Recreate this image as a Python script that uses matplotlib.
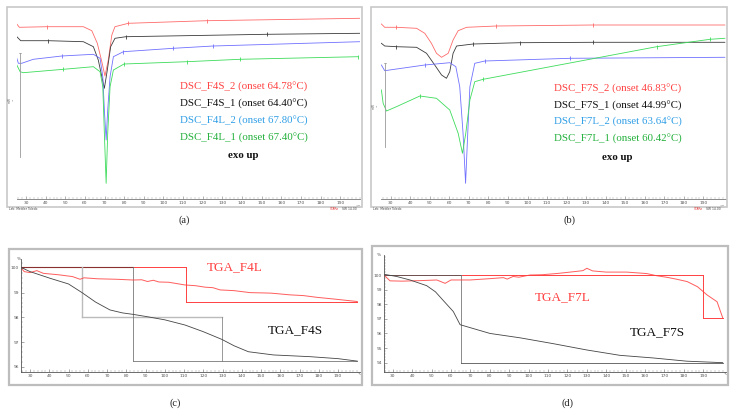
import numpy as np
import matplotlib
matplotlib.use("Agg")
import matplotlib.pyplot as plt
from matplotlib.patches import Rectangle
from matplotlib.ticker import MultipleLocator, FixedLocator

W, H = 734, 417
SERIF = ["Liberation Serif", "DejaVu Serif"]

# ---------------- DATA ----------------
# Panel (a) DSC curves: temperature (°C) and heat flow (arbitrary units, exo up)
f4s2_T = [25.3, 26.6, 40.5, 59.2, 63.5, 66.3, 68.6, 70.2, 71.9, 73.7, 75.3, 82.1, 122.0, 200.0]
f4s2_v = [175, 171.7, 172.3, 172.3, 168.3, 155.7, 137.3, 123, 139, 164, 172.3, 175.7, 178.3, 180.7]
f4s1_T = [25.3, 27.3, 41.4, 59.2, 64.3, 66.8, 68.6, 69.9, 71.4, 73.1, 75.3, 80.9, 152.6, 200.0]
f4s1_v = [162.3, 158.3, 158.3, 157.3, 152.3, 139, 122.3, 110.7, 129, 152.3, 160.7, 162.3, 164.7, 165.7]
f4l2_T = [25.3, 26.1, 27.8, 33.7, 48.2, 64.3, 67.7, 69.1, 69.9, 70.8, 71.6, 72.8, 74.5, 79.6, 105.0, 125.4, 200.0]
f4l2_v = [140.7, 135.7, 135.7, 139.7, 143, 144.7, 140.7, 122.3, 89, 59, 89, 122.3, 142.3, 147.3, 150.7, 153, 157.3]
f4l1_T = [25.3, 27.0, 28.6, 49.0, 64.3, 67.7, 69.1, 69.9, 70.8, 71.6, 72.8, 74.5, 79.9, 111.9, 139.0, 199.3]
f4l1_v = [134, 127.3, 126.3, 129.7, 132.3, 127.3, 112.3, 65.7, 15.7, 65.7, 112.3, 129, 135, 137.3, 139.7, 142.3]

# Panel (b) DSC curves
f7s2_T = [25.2, 26.9, 32.9, 43.2, 47.4, 50.8, 53.4, 56.0, 59.4, 61.9, 64.5, 68.8, 84.1, 133.6, 201.0]
f7s2_v = [175, 171.7, 171.7, 170.7, 165.7, 155.7, 145.7, 141.7, 145.7, 159, 168.3, 171.7, 173, 174, 174]
f7s1_T = [25.2, 26.9, 32.9, 43.2, 48.3, 52.5, 56.0, 58.5, 60.2, 61.9, 63.7, 72.2, 96.1, 133.6, 201.0]
f7s1_v = [155.7, 153, 152.3, 151.7, 145.7, 134, 124, 120.7, 127.3, 145.7, 153, 155, 156.3, 156.7, 156.7]
f7l2_T = [25.2, 26.9, 29.4, 47.4, 60.2, 63.3, 65.3, 67.0, 68.3, 69.4, 70.5, 73.0, 78.2, 121.7, 201.0]
f7l2_v = [134, 128.3, 129, 134, 136.3, 132.3, 112.3, 65.7, 15.7, 65.7, 112.3, 135.7, 138, 140.7, 141.7]
f7l1_T = [25.2, 26.1, 27.8, 32.9, 44.9, 53.4, 60.2, 64.5, 66.7, 68.4, 70.5, 73.0, 77.3, 166.1, 193.4, 201.0]
f7l1_v = [109, 95.7, 88, 92.3, 103, 100.7, 89, 65.7, 45.7, 65.7, 99, 117.3, 119.7, 152.3, 159.7, 160.7]

dsc_a_labels = ["DSC_F4S_2 (onset 64.78°C)", "DSC_F4S_1 (onset 64.40°C)",
                "DSC_F4L_2 (onset 67.80°C)", "DSC_F4L_1 (onset 67.40°C)"]
dsc_b_labels = ["DSC_F7S_2 (onset 46.83°C)", "DSC_F7S_1 (onset 44.99°C)",
                "DSC_F7L_2 (onset 63.64°C)", "DSC_F7L_1 (onset 60.42°C)"]

# Panel (c) TGA curves (mass %)
f4s_T = [25, 30, 40.4, 50, 57, 64, 71.5, 78, 83.6, 90.6, 100, 110.5, 120, 129.6, 136, 143.4, 156.4, 175.4, 190, 200]
f4s_m = [100.03, 99.85, 99.58, 99.35, 99.0, 98.62, 98.3, 98.18, 98.12, 98.03, 97.9, 97.69, 97.42, 97.11, 96.85, 96.61, 96.48, 96.41, 96.33, 96.23]
f4l_T = [25, 27, 30, 33.5, 36.9, 45, 52, 56, 58, 65, 75, 83.6, 88, 91, 94, 97, 102, 110.5, 116, 121, 125, 128.7, 136, 144.3, 150, 155, 158, 165, 172, 179, 188, 200]
f4l_m = [100.02, 99.85, 99.81, 99.89, 99.78, 99.72, 99.65, 99.54, 99.6, 99.56, 99.54, 99.51, 99.52, 99.45, 99.5, 99.43, 99.42, 99.31, 99.28, 99.22, 99.2, 99.11, 99.08, 99.0, 98.99, 98.98, 98.96, 98.91, 98.88, 98.81, 98.74, 98.64]
f4s_steps = [57.0, 83.7, 129.6]
f4s_levels = [100.03, 98.03, 96.22]
f4l_steps = [110.9]
f4l_levels = [100.03, 98.61]

# Panel (d) TGA curves
f7s_T = [25.5, 32, 38.9, 47.5, 52, 56, 61.2, 64.7, 69.8, 80.1, 95.6, 112.7, 129.9, 147.1, 164.3, 181.5, 200]
f7s_m = [100.05, 99.9, 99.66, 99.27, 98.85, 98.26, 97.5, 96.6, 96.4, 96.0, 95.7, 95.3, 94.87, 94.5, 94.32, 94.1, 94.0]
f7l_T = [25.5, 28.6, 35, 45, 52.7, 57, 60, 69.8, 80, 87, 89, 92, 95, 100.7, 107, 114.4, 120, 124.8, 128, 130, 133, 140, 150.5, 160.8, 166, 171.4, 176, 181.7, 187, 192, 197.1, 200]
f7l_m = [100.0, 99.6, 99.58, 99.62, 99.66, 99.43, 99.66, 99.66, 99.75, 99.82, 99.72, 99.9, 99.85, 100.0, 100.02, 100.1, 100.18, 100.25, 100.3, 100.46, 100.28, 100.2, 100.2, 100.1, 99.95, 99.84, 99.72, 99.55, 99.2, 98.63, 98.17, 97.07]
f7s_steps = [65.0]
f7s_levels = [100.0, 94.0]
f7l_steps = [190.0]
f7l_levels = [100.0, 97.05]

tga_c_labels = ["TGA_F4L", "TGA_F4S"]
tga_d_labels = ["TGA_F7L", "TGA_F7S"]
captions = ["(a)", "(b)", "(c)", "(d)"]

# colours
RED = "#ff6a6a"
BLK = "#3a3a3a"
BLU = "#7070ff"
GRN = "#3ddc5a"
TRED = "#ff4040"
TBLU = "#2f9ee6"
TGRN = "#22b03a"

fig = plt.figure(figsize=(W / 100, H / 100), dpi=100)
fig.patch.set_facecolor("white")


def fx(px):
    return px / W


def fy(py):
    return 1 - py / H


def add_ax(x0, ytop, x1, ybot):
    return fig.add_axes([fx(x0), fy(ybot), (x1 - x0) / W, (ybot - ytop) / H])


def box(x0, y0, x1, y1, lw=1.2, col="#c8c8c8"):
    fig.add_artist(Rectangle((fx(x0), fy(y1)), (x1 - x0) / W, (y1 - y0) / H,
                             transform=fig.transFigure, fill=False,
                             edgecolor=col, linewidth=lw))


def ftext(px, py, s, **kw):
    fig.text(fx(px), fy(py), s, **kw)


# ---------- DSC panels ----------
def dsc_axis(ax, xlim):
    ax.set_xlim(*xlim)
    ax.set_ylim(0, 189)
    for s in ["top", "right", "left"]:
        ax.spines[s].set_visible(False)
    ax.spines["bottom"].set_color("#777777")
    ax.spines["bottom"].set_linewidth(0.6)
    ax.set_yticks([])
    ax.xaxis.set_major_locator(FixedLocator(list(range(30, 200, 10))))
    ax.xaxis.set_minor_locator(MultipleLocator(2))
    ax.tick_params(axis="x", which="major", direction="in", length=2, width=0.4,
                   colors="#777777", labelsize=3.2, pad=1.5, labelcolor="#555555")
    ax.tick_params(axis="x", which="minor", direction="in", length=1.2, width=0.3,
                   colors="#999999")
    ax.patch.set_alpha(0)


def curve(ax, T, v, col, marks):
    ax.plot(T, v, color=col, lw=0.6, marker="|", markersize=3, markeredgewidth=0.6,
            markevery=marks)


# panel (a)
box(7, 7, 362, 207)
axa = add_ax(17, 10, 360, 199)
dsc_axis(axa, (25.4, 200.1))
curve(axa, f4s2_T, f4s2_v, RED, [2, 11, 12])
curve(axa, f4s1_T, f4s1_v, BLK, [2, 11, 12])
curve(axa, f4l2_T, f4l2_v, BLU, [4, 13, 14, 15])
curve(axa, f4l1_T, f4l1_v, GRN, [3, 12, 13, 14, 15])
axa.plot([26.9, 26.9], [42, 146], color="#999999", lw=0.6)
axa.plot([26.4, 27.4], [146, 146], color="#999999", lw=0.5)
axa.text(199.3, -6, "°C", fontsize=3.2, color="#555555", ha="center", va="top")
ftext(12, 100, "mW\n^", fontsize=2.2, color="#666666", rotation=90, ha="center", va="center")

for i, (lab, c) in enumerate(zip(dsc_a_labels, [TRED, "#111111", TBLU, TGRN])):
    ftext(180, 87.5 + 16.8 * i, lab, fontsize=7.8, color=c, family=SERIF, va="center")
ftext(243, 155, "exo up", fontsize=7.8, color="#111111", family=SERIF,
      fontweight="bold", ha="center", va="center")
ftext(9, 209, "Lab: Mettler Toledo", fontsize=2.2, color="#444444", va="center")
ftext(330, 209, "STARe", fontsize=2.2, color="#e03030", va="center")
ftext(342, 209, "SW 14.00", fontsize=2.2, color="#444444", va="center")

# panel (b)
box(371, 7, 727, 207)
axb = add_ax(381, 10, 726, 199)
dsc_axis(axb, (25.0, 201.6))
curve(axb, f7s2_T, f7s2_v, RED, [2, 12, 13])
curve(axb, f7s1_T, f7s1_v, BLK, [2, 11, 12, 13])
curve(axb, f7l2_T, f7l2_v, BLU, [3, 12, 13])
curve(axb, f7l1_T, f7l1_v, GRN, [4, 12, 13, 14])
axb.plot([27.0, 27.0], [52, 136], color="#999999", lw=0.6)
axb.plot([26.5, 27.5], [136, 136], color="#999999", lw=0.5)
axb.text(199.8, -6, "°C", fontsize=3.2, color="#555555", ha="center", va="top")
ftext(376, 106, "mW\n^", fontsize=2.2, color="#666666", rotation=90, ha="center", va="center")
for i, (lab, c) in enumerate(zip(dsc_b_labels, [TRED, "#111111", TBLU, TGRN])):
    ftext(554, 89 + 16.6 * i, lab, fontsize=7.8, color=c, family=SERIF, va="center")
ftext(617, 157, "exo up", fontsize=7.8, color="#111111", family=SERIF,
      fontweight="bold", ha="center", va="center")
ftext(373, 209, "Lab: Mettler Toledo", fontsize=2.2, color="#444444", va="center")
ftext(694, 209, "STARe", fontsize=2.2, color="#e03030", va="center")
ftext(706, 209, "SW 14.00", fontsize=2.2, color="#444444", va="center")


# ---------- TGA panels ----------
def tga_axis(ax, xlim, ylim):
    ax.set_xlim(*xlim)
    ax.set_ylim(*ylim)
    for s in ["top", "right"]:
        ax.spines[s].set_visible(False)
    for s in ["left", "bottom"]:
        ax.spines[s].set_color("#555555")
        ax.spines[s].set_linewidth(0.6)
    ax.xaxis.set_major_locator(FixedLocator(list(range(30, 200, 10))))
    ax.xaxis.set_minor_locator(MultipleLocator(2))
    ax.yaxis.set_major_locator(MultipleLocator(1))
    ax.yaxis.set_minor_locator(MultipleLocator(0.2))
    ax.tick_params(which="major", direction="in", length=2, width=0.4,
                   colors="#666666", labelsize=3.2, pad=1.5, labelcolor="#555555")
    ax.tick_params(which="minor", direction="in", length=1.2, width=0.3, colors="#888888")
    ax.patch.set_alpha(0)


# panel (c)
box(9, 249, 362, 385, lw=1.6, col="#bdbdbd")
axc = add_ax(21, 259, 360, 372)
tga_axis(axc, (25.3, 201.4), (95.79, 100.36))
axc.set_yticks([96, 97, 98, 99, 100])
axc.set_yticklabels(["96", "97", "98", "99", "100"])
# F4L evaluation steps (red)
axc.plot([25, f4l_steps[0]], [f4l_levels[0]] * 2, color=TRED, lw=0.7)
axc.plot([f4l_steps[0]] * 2, [f4l_levels[0], f4l_levels[1]], color=TRED, lw=0.7)
axc.plot([f4l_steps[0], 200], [f4l_levels[1]] * 2, color=TRED, lw=0.7)
# F4S evaluation steps
axc.plot([25, f4s_steps[1]], [f4s_levels[0]] * 2, color="#8a3030", lw=0.8)
axc.plot([f4s_steps[0]] * 2, [f4s_levels[0], f4s_levels[1]], color="#bbbbbb", lw=1.0)
axc.plot([f4s_steps[0], f4s_steps[2]], [f4s_levels[1]] * 2, color="#bbbbbb", lw=1.0)
axc.plot([f4s_steps[2]] * 2, [f4s_levels[1], f4s_levels[2]], color="#888888", lw=0.6)
axc.plot([f4s_steps[1]] * 2, [f4s_levels[0], f4s_levels[2]], color="#777777", lw=0.6)
axc.plot([f4s_steps[1], 200], [f4s_levels[2]] * 2, color="#777777", lw=0.6)
# curves
axc.plot(f4l_T, f4l_m, color=TRED, lw=0.7, alpha=0.85)
axc.plot(f4s_T, f4s_m, color="#444444", lw=0.6)
axc.text(1.0, 0.0, "°C", transform=axc.transAxes, fontsize=3.2, color="#555555",
         ha="center", va="top")
axc.text(0.0, 1.0, "%", transform=axc.transAxes, fontsize=3.2, color="#555555",
         ha="right", va="center")
ftext(235, 267, tga_c_labels[0], fontsize=9.5, color=TRED, family=SERIF, ha="center", va="center")
ftext(295, 330, tga_c_labels[1], fontsize=9.5, color="#111111", family=SERIF, ha="center", va="center")

# panel (d)
box(372, 246, 728, 385, lw=1.6, col="#bdbdbd")
axd = add_ax(384, 255, 726, 372)
tga_axis(axd, (25.5, 201.7), (93.36, 101.37))
axd.set_yticks([94, 95, 96, 97, 98, 99, 100])
axd.plot([25.5, f7l_steps[0]], [f7l_levels[0]] * 2, color=TRED, lw=0.7)
axd.plot([f7l_steps[0]] * 2, [f7l_levels[0], f7l_levels[1]], color=TRED, lw=0.7)
axd.plot([f7l_steps[0], 200], [f7l_levels[1]] * 2, color=TRED, lw=0.7)
axd.plot([25.5, f7s_steps[0]], [f7s_levels[0]] * 2, color="#555555", lw=0.6)
axd.plot([f7s_steps[0]] * 2, [f7s_levels[0], f7s_levels[1]], color="#777777", lw=0.6)
axd.plot([f7s_steps[0], 200], [f7s_levels[1]] * 2, color="#555555", lw=0.6)
axd.plot(f7l_T, f7l_m, color=TRED, lw=0.7, alpha=0.85)
axd.plot(f7s_T, f7s_m, color="#444444", lw=0.6)
axd.text(1.0, 0.0, "°C", transform=axd.transAxes, fontsize=3.2, color="#555555",
         ha="center", va="top")
axd.text(-0.01, 1.0, "%", transform=axd.transAxes, fontsize=3.2, color="#555555",
         ha="right", va="center")
ftext(563, 297, tga_d_labels[0], fontsize=9.5, color=TRED, family=SERIF, ha="center", va="center")
ftext(657, 332, tga_d_labels[1], fontsize=9.5, color="#111111", family=SERIF, ha="center", va="center")

# captions
for (px, py), cap in zip([(184, 220), (569, 220), (175, 403), (568, 403)], captions):
    ftext(px, py, cap, fontsize=7.5, color="#222222", family=SERIF, ha="center", va="center")

fig.savefig("out.png", dpi=100, facecolor="white")
